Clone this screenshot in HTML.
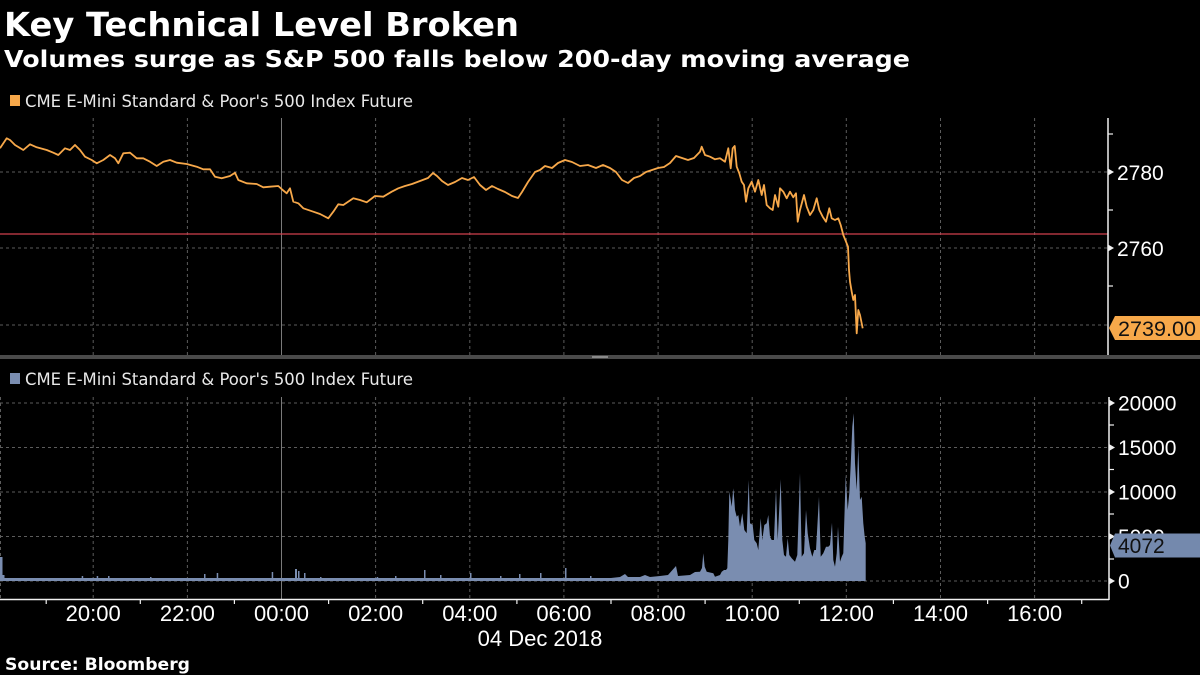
<!DOCTYPE html>
<html>
<head>
<meta charset="utf-8">
<style>
html,body{margin:0;padding:0;background:#000;}
svg{display:block;}
text{font-family:"Liberation Sans",sans-serif;}
.hd{font-family:"DejaVu Sans","Liberation Sans",sans-serif;font-weight:bold;}
.lg{font-family:"DejaVu Sans Condensed","Liberation Sans Narrow","Liberation Sans",sans-serif;}
</style>
</head>
<body>
<svg width="1200" height="675" viewBox="0 0 1200 675" xmlns="http://www.w3.org/2000/svg">
<rect x="0" y="0" width="1200" height="675" fill="#000"/>

<!-- Titles -->
<text class="hd" x="4" y="36" fill="#fff" font-size="33" textLength="515" lengthAdjust="spacingAndGlyphs">Key Technical Level Broken</text>
<text class="hd" x="4" y="67" fill="#fff" font-size="23" textLength="906" lengthAdjust="spacingAndGlyphs">Volumes surge as S&amp;P 500 falls below 200-day moving average</text>

<!-- Legend 1 -->
<rect x="10" y="95" width="10" height="11" fill="#f7a84a"/>
<text class="lg" x="25" y="107" fill="#e8e8e8" font-size="17" textLength="388" lengthAdjust="spacingAndGlyphs">CME E-Mini Standard &amp; Poor's 500 Index Future</text>

<!-- Upper panel gridlines -->
<g stroke="#5c5c5c" stroke-width="1" stroke-dasharray="3,3">
  <line x1="0" y1="172" x2="1108" y2="172"/>
  <line x1="0" y1="248" x2="1108" y2="248"/>
  <line x1="0" y1="325" x2="1108" y2="325"/>
  <line x1="93.2" y1="118" x2="93.2" y2="355"/>
  <line x1="187.4" y1="118" x2="187.4" y2="355"/>
  <line x1="375.6" y1="118" x2="375.6" y2="355"/>
  <line x1="469.8" y1="118" x2="469.8" y2="355"/>
  <line x1="563.9" y1="118" x2="563.9" y2="355"/>
  <line x1="658.1" y1="118" x2="658.1" y2="355"/>
  <line x1="752.2" y1="118" x2="752.2" y2="355"/>
  <line x1="846.3" y1="118" x2="846.3" y2="355"/>
  <line x1="940.5" y1="118" x2="940.5" y2="355"/>
  <line x1="1034.6" y1="118" x2="1034.6" y2="355"/>
</g>
<line x1="281.5" y1="118" x2="281.5" y2="355" stroke="#7a7a7a" stroke-width="1"/>

<!-- Red 200-day line -->
<line x1="0" y1="234" x2="1108" y2="234" stroke="#d0404e" stroke-width="1.2"/>

<!-- Price line -->
<polyline fill="none" stroke="#f7a84a" stroke-width="1.8" stroke-linejoin="round" points="
0,148.3 6.7,138.3 10,140 15,145 23.3,150 30,144.3 36.7,147.3 46.7,150 53.3,152.7 58.3,155 65,148.3 70,150 75,145 80,150 85,156.7 91.7,160 96.7,163.3 103.3,160 110,155 115,158.3 118.3,163.3 123.3,153.3 130,152.7 136.7,158.3 143.3,158.3 150,161.7 156.7,166 163.3,161.7 170,160 176.7,162.7 186.7,164 196.7,166.7 203.3,169.3 210,169.3 215,176.7 221.7,178.3 230,176 235,172.7 238.3,180 246.7,183.3 256.7,184 263.3,187.3 270,186.7 278.3,186 282.7,190 286.7,193.3 290,188.3 293.3,201.7 298.3,203.3 303.3,208.3 313.3,211.7 320,214 328.3,218.3 333.3,211.7 338.3,204.3 343.3,205 353.3,198.3 360,200 366.7,202.3 375,196 383.3,196.7 391.7,191.7 398.3,188.3
405,186 412,184 420,181 428,178 433,173 437,176 442,181 448,185 455,182 462,178 468,180 474,177 480,185 486,190 492,186 498,189 505,192 512,196 518,198 522,192 528,182 535,172 540,170 545,166 552,168 558,163 565,160 572,162 580,166 588,165 596,168 603,165 610,168 616,172 622,180 628,183 634,178 640,176 646,172 652,170 658,168 664,167 670,163 676,156 682,158 688,160 694,158
700,151.7 701.7,146.7 705,155 710,156.7 715,159.3 720,158.3 725,161.7 728.3,148.3 730.7,168.3 732.7,148.3 734.7,146 736.7,166.7 739.3,173.3 741.7,181.7 744,185 746,201.7 748.3,188.3 751.7,181.7 755,191.7 758.3,180 761.7,195 764,185 766.7,205 770,208.3 772.7,210 775,195 778.3,206.7 780,188.3 783.3,191.7 786.7,198.3 790,191.7 793.3,197.3 796,193.3 797.7,221.7 800,210 804,195 806.7,206.7 810,215 813.3,210 816.7,198.3 819.3,210 822.7,216.7 826,221.7 829.3,208.3 831.7,218.3 835,220 838.3,218.3 840.7,225 843.3,235 846,241.7 848,246.7 849,270 850,281.7 851.7,291.7 853.3,300 855,295 856.7,333.3 858.3,310 860,315 862.7,328.3"/>

<!-- Upper right axis -->
<line x1="1108" y1="118" x2="1108" y2="356" stroke="#f0f0f0" stroke-width="1.5"/>
<g stroke="#f0f0f0" stroke-width="1.2">
  <line x1="1108" y1="134" x2="1113" y2="134"/>
  <line x1="1108" y1="210" x2="1113" y2="210"/>
  <line x1="1108" y1="286" x2="1113" y2="286"/>
</g>
<g fill="#f0f0f0">
  <polygon points="1108,168.5 1114,172 1108,175.5"/>
  <polygon points="1108,244.5 1114,248 1108,251.5"/>
</g>
<text x="1117" y="180" fill="#fff" font-size="21">2780</text>
<text x="1117" y="256" fill="#fff" font-size="21">2760</text>
<polygon points="1109,328 1115,316 1200,316 1200,340 1115,340" fill="#f7a84a"/>
<text x="1118" y="336" fill="#111" font-size="21" textLength="78" lengthAdjust="spacingAndGlyphs">2739.00</text>

<!-- Separator -->
<rect x="0" y="355" width="1200" height="4" fill="#4a4a4a"/>
<rect x="592" y="356" width="16" height="2" fill="#8a8a8a"/>

<!-- Legend 2 -->
<rect x="10" y="373" width="10" height="11" fill="#7a8db0"/>
<text class="lg" x="25" y="385" fill="#e8e8e8" font-size="17" textLength="388" lengthAdjust="spacingAndGlyphs">CME E-Mini Standard &amp; Poor's 500 Index Future</text>

<!-- Lower panel gridlines -->
<g stroke="#5c5c5c" stroke-width="1" stroke-dasharray="3,3">
  <line x1="0" y1="403" x2="1109" y2="403"/>
  <line x1="0" y1="447.5" x2="1109" y2="447.5"/>
  <line x1="0" y1="492" x2="1109" y2="492"/>
  <line x1="0" y1="536.5" x2="1109" y2="536.5"/>
  <line x1="0" y1="581" x2="1109" y2="581"/>
  <line x1="0.5" y1="397" x2="0.5" y2="599"/>
  <line x1="93.2" y1="397" x2="93.2" y2="599"/>
  <line x1="187.4" y1="397" x2="187.4" y2="599"/>
  <line x1="375.6" y1="397" x2="375.6" y2="599"/>
  <line x1="469.8" y1="397" x2="469.8" y2="599"/>
  <line x1="563.9" y1="397" x2="563.9" y2="599"/>
  <line x1="658.1" y1="397" x2="658.1" y2="599"/>
  <line x1="752.2" y1="397" x2="752.2" y2="599"/>
  <line x1="846.3" y1="397" x2="846.3" y2="599"/>
  <line x1="940.5" y1="397" x2="940.5" y2="599"/>
  <line x1="1034.6" y1="397" x2="1034.6" y2="599"/>
</g>
<line x1="281.5" y1="397" x2="281.5" y2="599" stroke="#7a7a7a" stroke-width="1"/>

<!-- Volume -->
<g fill="#7a8db0">
  <rect x="0" y="578" width="611" height="3"/>
  <rect x="0" y="557" width="2.5" height="24"/>
  <rect x="2.5" y="575" width="2" height="6"/>
  <rect x="81.7" y="576" width="1.5" height="5"/>
  <rect x="96.7" y="576" width="1.5" height="5"/>
  <rect x="108" y="576" width="1.5" height="5"/>
  <rect x="150" y="577" width="1.5" height="4"/>
  <rect x="204" y="574" width="1.5" height="7"/>
  <rect x="216.7" y="573" width="1.5" height="8"/>
  <rect x="271.7" y="572" width="1.5" height="9"/>
  <rect x="295" y="569" width="2" height="12"/>
  <rect x="298" y="571" width="1.5" height="10"/>
  <rect x="304" y="573" width="1.5" height="8"/>
  <rect x="320" y="577" width="1.5" height="4"/>
  <rect x="376.7" y="577" width="1.5" height="4"/>
  <rect x="395" y="576" width="1.5" height="5"/>
  <rect x="424" y="570" width="1.5" height="11"/>
  <rect x="440" y="575" width="1.5" height="6"/>
  <rect x="470" y="573" width="1.5" height="8"/>
  <rect x="500" y="576" width="1.5" height="5"/>
  <rect x="519" y="574" width="1.5" height="7"/>
  <rect x="540" y="573" width="1.5" height="8"/>
  <rect x="565" y="568" width="1.5" height="13"/>
  <rect x="590" y="576" width="1.5" height="5"/>
  <path d="M611,581 L611,578 L620,577 L625,574 L628,577 L640,577 L645,575 L650,577 L660,576 L668,575 L676,566 L678,576 L690,575 L695,572 L700,571.7 L702,568 L703.3,553.3 L704.7,566.7 L706.7,571.7 L713.3,573.3 L715,576.7 L720,575 L721.7,571.7 L724,570 L726,570 L727.3,568.3
  L728.3,540 L729.3,491.7 L730.7,500 L731.7,506.7 L733.3,488.3 L734.3,500 L735,510 L736.7,516.7 L738.3,515 L740,526.7 L742.3,513.3 L744.3,530 L746.7,533.3 L748.7,480 L750,523.3 L752.7,525 L754.3,540 L756.7,543.3 L758.3,550 L760.7,518.3 L762.3,540 L764.3,525 L766.7,523.3 L768.3,515 L770,536.7 L771.7,540 L774,540 L776,488.3 L777.7,540 L780.7,479.3 L782.3,540 L784,555 L786,556.7 L787.7,538.3 L789.3,555 L791.7,558.3 L795,561.7 L797.3,555 L800,473.3 L801.7,556.7 L804,553.3 L806,510 L807.7,533.3 L810,548.3 L812.3,556.7 L814.3,550 L816,550 L819,496.7 L820.7,556.7 L823.3,553.3 L826,546.7 L828.3,546.7 L830,545 L832,522.7 L833.3,560 L835,566.7 L836.7,553.3 L838,526.7 L840,561.7 L841.7,556.7 L843.3,553.3 L845.7,475 L847.7,510 L849.3,493.3 L850.7,465 L852.3,426.7 L853.7,413.3 L855,463.3 L856.7,490 L858.3,446.7 L860,500 L861.7,496.7 L863.3,523.3 L864.7,536.7 L865.7,543.3 L865.7,581 Z"/>
</g>

<!-- Lower right axis -->
<line x1="1109" y1="397" x2="1109" y2="600" stroke="#f0f0f0" stroke-width="1.5"/>
<g stroke="#f0f0f0" stroke-width="1.2">
  <line x1="1109" y1="425" x2="1114" y2="425"/>
  <line x1="1109" y1="469.5" x2="1114" y2="469.5"/>
  <line x1="1109" y1="514" x2="1114" y2="514"/>
  <line x1="1109" y1="559" x2="1114" y2="559"/>
</g>
<g fill="#f0f0f0">
  <polygon points="1109,399.5 1115,403 1109,406.5"/>
  <polygon points="1109,444 1115,447.5 1109,451"/>
  <polygon points="1109,488.5 1115,492 1109,495.5"/>
  <polygon points="1109,533 1115,536.5 1109,540"/>
  <polygon points="1109,577.5 1115,581 1109,584.5"/>
</g>
<text x="1118" y="410.5" fill="#fff" font-size="21">20000</text>
<text x="1118" y="455" fill="#fff" font-size="21">15000</text>
<text x="1118" y="499.5" fill="#fff" font-size="21">10000</text>
<text x="1118" y="544" fill="#fff" font-size="21">5000</text>
<text x="1118" y="588.5" fill="#fff" font-size="21">0</text>
<polygon points="1110,545.5 1115,533.5 1200,533.5 1200,557.5 1115,557.5" fill="#7489ad"/>
<text x="1118" y="553" fill="#111" font-size="21">4072</text>

<!-- X axis -->
<line x1="0" y1="599.5" x2="1109" y2="599.5" stroke="#f0f0f0" stroke-width="1.5"/>
<g stroke="#f0f0f0" stroke-width="1.2">
  <line x1="46.2" y1="599" x2="46.2" y2="604"/>
  <line x1="140.3" y1="599" x2="140.3" y2="604"/>
  <line x1="234.4" y1="599" x2="234.4" y2="604"/>
  <line x1="328.6" y1="599" x2="328.6" y2="604"/>
  <line x1="422.7" y1="599" x2="422.7" y2="604"/>
  <line x1="516.9" y1="599" x2="516.9" y2="604"/>
  <line x1="611" y1="599" x2="611" y2="604"/>
  <line x1="705.1" y1="599" x2="705.1" y2="604"/>
  <line x1="799.3" y1="599" x2="799.3" y2="604"/>
  <line x1="893.4" y1="599" x2="893.4" y2="604"/>
  <line x1="987.6" y1="599" x2="987.6" y2="604"/>
  <line x1="1081.7" y1="599" x2="1081.7" y2="604"/>
</g>
<g fill="#fff" font-size="22" text-anchor="middle">
  <text x="93.2" y="621">20:00</text>
  <text x="187.4" y="621">22:00</text>
  <text x="281.5" y="621">00:00</text>
  <text x="375.6" y="621">02:00</text>
  <text x="469.8" y="621">04:00</text>
  <text x="563.9" y="621">06:00</text>
  <text x="658.1" y="621">08:00</text>
  <text x="752.2" y="621">10:00</text>
  <text x="846.3" y="621">12:00</text>
  <text x="940.5" y="621">14:00</text>
  <text x="1034.6" y="621">16:00</text>
  <text x="540" y="646">04 Dec 2018</text>
</g>

<!-- Source -->
<text class="hd" x="5" y="670" fill="#fff" font-size="16.5" textLength="185" lengthAdjust="spacingAndGlyphs">Source: Bloomberg</text>
</svg>
</body>
</html>
